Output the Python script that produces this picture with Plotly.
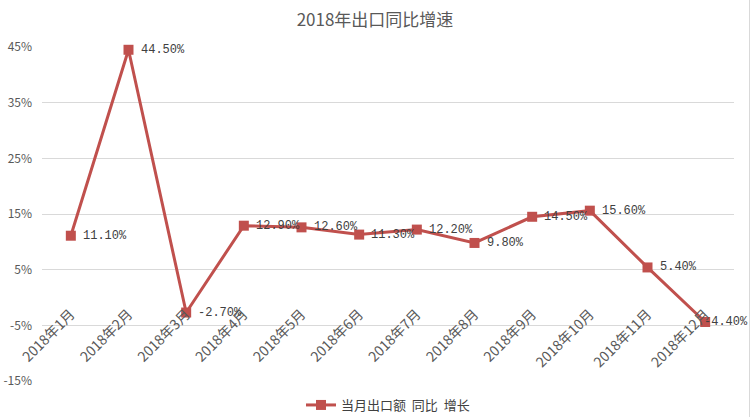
import plotly.graph_objects as go

categories = ["2018年1月", "2018年2月", "2018年3月", "2018年4月", "2018年5月", "2018年6月",
              "2018年7月", "2018年8月", "2018年9月", "2018年10月", "2018年11月", "2018年12月"]
values = [11.1, 44.5, -2.7, 12.9, 12.6, 11.3, 12.2, 9.8, 14.5, 15.6, 5.4, -4.4]
y_ticks = [-15, -5, 5, 15, 25, 35, 45]
series_name = "当月出口额  同比  增长"
title_text = "2018年出口同比增速"

color = "#C0504D"
font_main = "SimSun, Noto Sans CJK SC, sans-serif"

fig = go.Figure()
fig.add_trace(go.Scatter(
    x=categories, y=values, mode="lines+markers", name=series_name,
    line=dict(color=color, width=3),
    marker=dict(symbol="square", size=10, color=color),
    cliponaxis=False,
))

for i, (c, v) in enumerate(zip(categories, values)):
    last = i == len(categories) - 1
    fig.add_annotation(
        x=c, y=v, text=f"{v:.2f}%", showarrow=False,
        xanchor="left", yanchor="middle", xshift=-3 if last else 10,
        font=dict(family="Liberation Mono, Noto Sans CJK SC", size=12, color="#404040"),
    )

fig.update_layout(
    width=750, height=417,
    margin=dict(l=42, r=16, t=47, b=36, autoexpand=False),
    paper_bgcolor="white", plot_bgcolor="white",
    title=dict(text=title_text, x=0.5, xanchor="center", y=0.952, yanchor="middle",
               font=dict(family=font_main, size=17, color="#595959")),
    showlegend=True,
    legend=dict(orientation="h", x=0.5, xanchor="center", y=1 - 405 / 417, yanchor="middle",
                yref="container",
                font=dict(family=font_main, size=13, color="#404040")),
    font=dict(family=font_main),
)
fig.update_xaxes(
    type="category", anchor="free", position=0.25, tickangle=-45,
    showgrid=False, showline=False, zeroline=False, ticks="", automargin=False,
    ticklabelstandoff=5,
    tickfont=dict(family=font_main, size=14, color="#595959"),
    range=[-0.5, 11.5],
)
fig.update_yaxes(
    range=[-15, 45], tickvals=y_ticks, ticktext=[f"{v}%" for v in y_ticks],
    showgrid=True, gridcolor="#D9D9D9", gridwidth=1, zeroline=False, showline=False,
    automargin=False, ticklabelstandoff=9,
    tickfont=dict(family=font_main, size=12, color="#595959"),
)
fig.add_shape(type="line", xref="paper", yref="paper",
              x0=(749.5 - 42) / 692, x1=(749.5 - 42) / 692, y0=-36 / 334, y1=47 / 334 + 1,
              line=dict(color="#D9D9D9", width=1))

fig.write_html("out.html", config={"displayModeBar": False},
               post_script="document.body.style.margin='0';document.body.style.overflow='hidden';")
